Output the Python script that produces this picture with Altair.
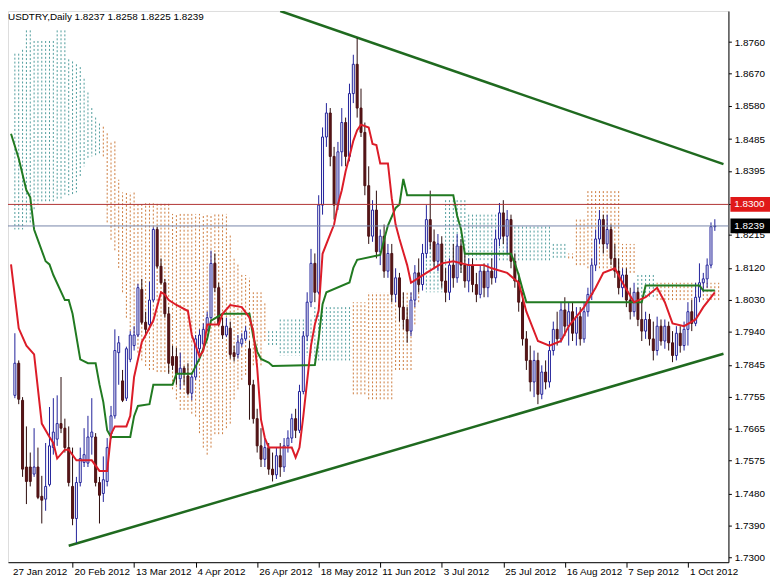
import altair as alt
import pandas as pd

title_text = "USDTRY,Daily  1.8237 1.8258 1.8225 1.8239"

opens = [1.7759,1.7850,1.7745,1.7556,1.7556,1.7536,1.7556,1.7473,1.7465,1.7506,1.7611,1.7635,1.7679,1.7666,1.7611,1.7501,1.7410,1.7512,1.7569,1.7567,1.7641,1.7641,1.7512,1.7481,1.7515,1.7649,1.7701,1.7880,1.7800,1.7751,1.7861,1.7900,1.7930,1.8059,1.7966,1.7960,1.8029,1.8229,1.8125,1.8078,1.7990,1.7869,1.7869,1.7806,1.7836,1.7814,1.7765,1.7811,1.7891,1.7905,1.7946,1.7979,1.8133,1.8064,1.7955,1.7930,1.7949,1.7880,1.7875,1.7905,1.7919,1.7891,
         1.7789,1.7693,1.7616,1.7578,1.7611,1.7550,1.7534,1.7588,1.7556,1.7616,1.7638,1.7693,1.7660,1.7770,1.7927,1.8023,1.8133,1.8051,1.8298,1.8491,
         1.8559,1.8436,1.8298,1.8449,1.8532,1.8436,1.8614,1.8697,1.8573,1.8504,1.8353,1.8210,1.8284,1.8166,1.8210,1.8111,1.8161,1.8045,1.8092,1.8009,
         1.7974,1.7941,1.8029,1.8106,1.8073,1.8161,1.8257,1.8194,1.8139,1.8188,1.8083,1.8051,1.8128,1.8092,1.8182,1.8128,1.8083,1.8128,1.8073,1.8045,
         1.8111,1.8064,1.8111,1.8092,1.8202,1.8276,1.8210,1.8257,1.8139,1.8083,1.8023,1.7919,1.7858,1.7797,1.7858,1.7762,1.7825,1.7797,1.7886,1.7946,
         1.7919,1.8001,1.7955,1.7996,1.7935,1.7982,1.7919,1.7996,1.8045,1.8128,1.8202,1.8257,1.8188,1.8229,1.8147,1.8111,1.8064,1.8100,1.8029,1.7996,
         1.8051,1.7974,1.7941,1.7974,1.7919,1.7886,1.7955,1.7913,1.7955,1.7908,1.7872,1.7935,1.7900,1.7946,1.7996,1.7963,1.8037,1.8078,1.8089,1.8128,1.8237]
highs = [1.7935,1.7858,1.7754,1.7671,1.7597,1.7666,1.7611,1.7531,1.7624,1.7726,1.7751,1.7759,1.7811,1.7693,1.7671,1.7611,1.7528,1.7611,1.7666,1.7701,1.7751,1.7652,1.7528,1.7586,1.7638,1.7729,1.7946,1.7927,1.7831,1.7897,1.7941,1.7955,1.8075,1.8089,1.7996,1.8081,1.8235,1.8237,1.8147,1.8089,1.8009,1.7900,1.7894,1.7880,1.7842,1.7850,1.7820,1.7930,1.7946,1.7963,1.7996,1.8169,1.8161,1.8078,1.7979,1.7979,1.7968,1.7900,1.7930,1.7935,1.7955,1.7913,
         1.7803,1.7721,1.7666,1.7638,1.7624,1.7597,1.7611,1.7624,1.7638,1.7660,1.7707,1.7721,1.7789,1.7941,1.8051,1.8174,1.8161,1.8326,1.8518,1.8587,
         1.8573,1.8463,1.8477,1.8573,1.8546,1.8642,1.8724,1.8771,1.8628,1.8532,1.8408,1.8312,1.8339,1.8229,1.8243,1.8188,1.8188,1.8119,1.8106,1.8051,
         1.8009,1.8051,1.8128,1.8147,1.8188,1.8298,1.8339,1.8229,1.8216,1.8210,1.8119,1.8147,1.8188,1.8216,1.8202,1.8161,1.8147,1.8147,1.8106,1.8128,
         1.8133,1.8133,1.8147,1.8229,1.8304,1.8312,1.8284,1.8271,1.8161,1.8106,1.8051,1.7941,1.7900,1.7886,1.7880,1.7844,1.7858,1.7913,1.7968,1.7996,
         1.8023,1.8037,1.8023,1.8023,1.8009,1.8009,1.8023,1.8064,1.8147,1.8229,1.8284,1.8271,1.8271,1.8243,1.8188,1.8147,1.8119,1.8119,1.8064,1.8078,
         1.8064,1.8023,1.7996,1.7990,1.7968,1.7982,1.7974,1.7974,1.7968,1.7941,1.7955,1.7955,1.7968,1.8023,1.8029,1.8078,1.8133,1.8106,1.8147,1.8249,1.8258]
lows = [1.7751,1.7734,1.7528,1.7451,1.7501,1.7528,1.7465,1.7396,1.7432,1.7501,1.7591,1.7616,1.7652,1.7597,1.7501,1.7391,1.7341,1.7501,1.7556,1.7556,1.7591,1.7501,1.7396,1.7457,1.7501,1.7635,1.7693,1.7789,1.7740,1.7743,1.7853,1.7886,1.7924,1.7960,1.7927,1.7946,1.8023,1.8119,1.8073,1.7979,1.7820,1.7831,1.7789,1.7776,1.7789,1.7759,1.7745,1.7803,1.7880,1.7897,1.7941,1.7974,1.8051,1.7955,1.7919,1.7924,1.7863,1.7855,1.7863,1.7897,1.7913,1.7690,
        1.7679,1.7597,1.7556,1.7556,1.7534,1.7515,1.7522,1.7528,1.7542,1.7597,1.7624,1.7638,1.7652,1.7762,1.7913,1.8009,1.8023,1.8045,1.8271,1.8463,
        1.8408,1.8257,1.8284,1.8408,1.8408,1.8422,1.8587,1.8546,1.8491,1.8326,1.8188,1.8194,1.8147,1.8128,1.8092,1.8092,1.8023,1.8023,1.7968,1.7946,
        1.7908,1.7927,1.8009,1.8051,1.8056,1.8147,1.8174,1.8119,1.8111,1.8064,1.8023,1.8029,1.8064,1.8078,1.8106,1.8064,1.8051,1.8051,1.8023,1.8034,
        1.8037,1.8037,1.8073,1.8078,1.8182,1.8188,1.8161,1.8119,1.8064,1.7996,1.7900,1.7831,1.7770,1.7754,1.7734,1.7748,1.7776,1.7781,1.7872,1.7900,
        1.7908,1.7927,1.7900,1.7913,1.7900,1.7900,1.7908,1.7982,1.8029,1.8111,1.8188,1.8161,1.8174,1.8128,1.8092,1.8045,1.8037,1.8009,1.7974,1.7982,
        1.7955,1.7913,1.7919,1.7900,1.7858,1.7872,1.7900,1.7891,1.7886,1.7853,1.7858,1.7880,1.7886,1.7900,1.7941,1.7955,1.8023,1.8051,1.8064,1.8119,1.8225]
closes = [1.7850,1.7748,1.7550,1.7515,1.7515,1.7556,1.7470,1.7462,1.7501,1.7616,1.7655,1.7679,1.7666,1.7611,1.7512,1.7410,1.7512,1.7580,1.7591,1.7641,1.7655,1.7512,1.7476,1.7520,1.7611,1.7701,1.7886,1.7908,1.7745,1.7891,1.7930,1.7930,1.8064,1.7966,1.7946,1.8029,1.8229,1.8125,1.8078,1.7990,1.7850,1.7844,1.7820,1.7836,1.7820,1.7765,1.7811,1.7919,1.7930,1.7946,1.7979,1.8133,1.8064,1.7960,1.7930,1.7955,1.7875,1.7869,1.7910,1.7919,1.7941,1.7789,
          1.7693,1.7616,1.7578,1.7611,1.7550,1.7534,1.7588,1.7556,1.7616,1.7638,1.7693,1.7660,1.7770,1.7927,1.8023,1.8133,1.8051,1.8298,1.8491,1.8559,
          1.8436,1.8298,1.8449,1.8532,1.8436,1.8614,1.8697,1.8573,1.8504,1.8353,1.8210,1.8284,1.8166,1.8210,1.8111,1.8161,1.8045,1.8092,1.8009,1.7974,
          1.7941,1.8029,1.8106,1.8073,1.8161,1.8257,1.8194,1.8139,1.8188,1.8083,1.8051,1.8128,1.8092,1.8182,1.8128,1.8083,1.8128,1.8073,1.8045,1.8111,
          1.8064,1.8111,1.8092,1.8202,1.8276,1.8210,1.8257,1.8139,1.8083,1.8023,1.7919,1.7858,1.7797,1.7858,1.7762,1.7825,1.7797,1.7886,1.7946,1.7919,
          1.8001,1.7955,1.7996,1.7935,1.7982,1.7919,1.7996,1.8045,1.8128,1.8202,1.8257,1.8188,1.8229,1.8147,1.8111,1.8064,1.8100,1.8029,1.7996,1.8051,
          1.7974,1.7941,1.7974,1.7919,1.7886,1.7955,1.7913,1.7955,1.7908,1.7872,1.7935,1.7900,1.7946,1.7996,1.7963,1.8037,1.8078,1.8089,1.8128,1.8237,1.8239]

tenkan_k = [-1,1,3,5,7,9,10,11,13,14,16,20,22,24,25,26,29,30,31,33,34,36,38,39,40,42,45,46,48,49,50,53,54,56,59,61,
            62,63,64,65,66,72,73,74,75,76,77,78,79,80,82,83,84,85,86,87,88,89,90,92,93,94,95,97,98,99,100,102,103,105,107,
            111,114,118,122,124,128,131,133,136,139,142,144,148,151,153,156,158,161,164,167,169,171,174,177,179,182]
tenkan_v = [1.8130,1.7949,1.7900,1.7875,1.7679,1.7641,1.7624,1.7580,1.7605,1.7605,1.7575,1.7575,1.7545,1.7545,1.7649,1.7671,1.7671,1.7701,1.7811,1.7910,1.7930,1.7971,1.8051,1.8045,1.8029,1.8015,1.7998,1.7930,1.7869,1.7886,1.7960,1.7960,1.7990,1.8015,1.8009,1.7979,
            1.7941,1.7838,1.7690,1.7638,1.7611,1.7611,1.7583,1.7611,1.7700,1.7800,1.7900,1.7960,1.8000,1.8160,1.8216,1.8243,1.8300,1.8340,1.8394,1.8436,1.8480,1.8510,1.8526,1.8518,1.8471,1.8468,1.8416,1.8416,1.8317,1.8243,1.8202,1.8128,1.8078,1.8092,1.8106,
            1.8133,1.8139,1.8128,1.8128,1.8119,1.8106,1.8078,1.7996,1.7913,1.7900,1.7913,1.7955,1.8009,1.8064,1.8106,1.8119,1.8078,1.8023,1.8037,1.8064,1.8023,1.7963,1.7955,1.7974,1.8009,1.8051]

kijun_k = [-1,1,3,4,5,6,8,9,10,13,14,15,17,19,21,22,23,24,25,30,31,32,35,36,41,42,46,48,50,51,54,61,
           62,63,64,66,67,78,79,80,81,87,88,89,95,96,97,99,100,101,102,114,115,116,117,129,130,131,132,133,163,164,178,179,182]
kijun_v = [1.8500,1.8430,1.8340,1.8320,1.8229,1.8199,1.8139,1.8130,1.8100,1.8029,1.8029,1.7990,1.7861,1.7850,1.7850,1.7790,1.7740,1.7660,1.7641,1.7641,1.7700,1.7729,1.7734,1.7789,1.7789,1.7820,1.7820,1.7863,1.7919,1.7971,1.7990,1.7990,
           1.7924,1.7883,1.7862,1.7852,1.7842,1.7845,1.7920,1.8017,1.8051,1.8079,1.8120,1.8143,1.8157,1.8200,1.8240,1.8290,1.8300,1.8372,1.8326,1.8326,1.8268,1.8230,1.8160,1.8160,1.8133,1.8100,1.8060,1.8023,1.8023,1.8070,1.8070,1.8056,1.8056]

span_a = [1.8727,1.8727,1.8738,1.8793,1.8793,1.8763,1.8763,1.8763,1.8763,1.8763,1.8763,1.8793,1.8793,1.8793,1.8711,1.8705,1.8697,1.8689,1.8656,1.8617,1.8573,1.8546,1.8529,1.8436,1.8249,1.8200,1.8170,1.8120,1.8051,1.7979,1.7941,1.7913,1.7880,1.7858,1.7842,1.7831,1.7831,1.7825,1.7825,1.7825,1.7825,1.7776,1.7748,1.7718,1.7718,1.7718,1.7707,1.7699,1.7652,1.7611,1.7591,1.7611,1.7649,1.7649,1.7649,1.7666,1.7679,1.7748,1.7776,1.7803,1.7817,1.7844,
          1.7844,1.7844,1.7844,1.7913,1.7941,1.7941,1.7941,1.7974,1.7974,1.7974,1.7974,1.7974,1.7974,1.7974,1.7974,1.7974,1.8009,1.8009,1.8009,1.8009,1.8009,1.8009,1.8009,1.8009,1.8009,1.8009,
          1.7762,1.7762,1.7762,1.7762,1.7748,1.7748,1.7748,1.7748,1.7748,1.7748,1.7748,1.7831,1.7831,1.7831,1.7831,1.7831,1.7960,1.8023,1.8139,1.8188,1.8188,1.8188,1.8188,1.8188,
          1.8312,1.8312,1.8312,1.8312,1.8312,1.8312,1.8271,1.8271,1.8271,1.8271,1.8271,1.8271,1.8271,1.8271,1.8237,1.8237,1.8237,1.8237,1.8237,1.8237,1.8237,1.8237,1.8237,1.8237,1.8237,1.8237,1.8237,1.8237,
          1.8188,1.8188,1.8188,1.8188,1.8147,1.8147,1.8128,1.8128,1.8128,1.8119,1.8119,1.8119,1.8119,1.8119,1.8119,1.8119,1.8119,1.8119,1.8106,1.8106,1.8106,1.8106,1.8100,1.8100,1.8100,1.8100,1.8100,
          1.8029,1.8029,1.8029,1.8029,1.8029,1.8029,1.8029,1.8029,1.8029,1.8029,1.8029,1.8029,1.8029,1.8029,1.8029,1.8029,1.8029]
span_b = [1.8229,1.8229,1.8229,1.8243,1.8249,1.8284,1.8298,1.8304,1.8309,1.8309,1.8309,1.8312,1.8317,1.8326,1.8326,1.8328,1.8334,1.8375,1.8408,1.8427,1.8436,1.8438,1.8444,1.8524,1.8504,1.8480,1.8480,1.8370,1.8334,1.8334,1.8334,1.8334,1.8304,1.8304,1.8304,1.8304,1.8304,1.8304,1.8304,1.8304,1.8304,1.8273,1.8273,1.8273,1.8273,1.8273,1.8273,1.8273,1.8273,1.8273,1.8273,1.8273,1.8273,1.8273,1.8273,1.8273,1.8216,1.8150,1.8133,1.8106,1.8100,1.8092,
          1.8051,1.8051,1.8051,1.8023,1.7900,1.7900,1.7900,1.7872,1.7872,1.7872,1.7872,1.7872,1.7872,1.7872,1.7872,1.7872,1.7858,1.7858,1.7858,1.7858,1.7858,1.7858,1.7858,1.7858,1.7858,1.7858,
          1.8023,1.8023,1.8023,1.8023,1.8051,1.8051,1.8051,1.8051,1.8051,1.8051,1.8051,1.8051,1.8051,1.8051,1.8051,1.8051,1.8064,1.8078,1.8073,1.8051,1.8051,1.8051,1.8051,1.8051,
          1.8106,1.8106,1.8106,1.8106,1.8106,1.8106,1.8139,1.8139,1.8139,1.8139,1.8139,1.8139,1.8139,1.8139,1.8139,1.8139,1.8139,1.8139,1.8139,1.8139,1.8139,1.8139,1.8139,1.8139,1.8139,1.8139,1.8139,1.8139,
          1.8144,1.8144,1.8144,1.8144,1.8161,1.8161,1.8257,1.8257,1.8257,1.8339,1.8339,1.8339,1.8339,1.8339,1.8339,1.8339,1.8339,1.8339,1.8188,1.8188,1.8188,1.8188,1.8037,1.8037,1.8037,1.8037,1.8037,
          1.8078,1.8078,1.8078,1.8078,1.8078,1.8078,1.8078,1.8078,1.8078,1.8078,1.8078,1.8078,1.8078,1.8078,1.8078,1.8078,1.8078]

upper_trend_k = [69.0, 184.25]
upper_trend_v = [1.8848, 1.8414]
lower_trend_k = [14.0, 184.25]
lower_trend_v = [1.7333, 1.7877]

resistance_level = 1.8300
bid_price = 1.8239

date_labels = ["27 Jan 2012", "20 Feb 2012", "13 Mar 2012", "4 Apr 2012", "26 Apr 2012", "18 May 2012",
               "11 Jun 2012", "3 Jul 2012", "25 Jul 2012", "16 Aug 2012", "7 Sep 2012", "1 Oct 2012"]
date_k = [-1, 15, 31, 47, 63, 79, 95, 111, 127, 143, 159, 175]

price_ticks = [1.8760, 1.8670, 1.8580, 1.8485, 1.8395, 1.8300, 1.8215, 1.8120, 1.8030,
               1.7940, 1.7845, 1.7755, 1.7665, 1.7575, 1.7480, 1.7390, 1.7300]

W, H = 728, 557
XDOM = [-0.5, 184.25]
YDOM = [1.72863, 1.8848]
FONT = "Liberation Sans"

xs = alt.Scale(domain=XDOM, nice=False, zero=False)
ys = alt.Scale(domain=YDOM, nice=False, zero=False)
xaxis = alt.Axis(values=date_k[1:], labels=False, ticks=True, tickSize=5, tickColor="black",
                 domainColor="black", grid=False, title=None)
yaxis = alt.Axis(orient="right", values=price_ticks, format=".4f", tickSize=3, tickColor="black",
                 domainColor="black", labelColor="black", labelFont=FONT, labelFontSize=10,
                 labelPadding=3, grid=False, title=None)


def XE(field="k"):
    return alt.X(f"{field}:Q", scale=xs, axis=xaxis)


def YE(field):
    return alt.Y(f"{field}:Q", scale=ys, axis=yaxis)


n = len(closes)
candles = pd.DataFrame({"k": list(range(n)), "o": opens, "h": highs, "l": lows, "c": closes})
bull = candles[candles["c"] >= candles["o"]]
bear = candles[candles["c"] < candles["o"]]

cloud = pd.DataFrame({"k": list(range(len(span_a))), "a": span_a, "b": span_b})
cloud_up = cloud[cloud["a"] >= cloud["b"]]
cloud_dn = cloud[cloud["a"] < cloud["b"]]


def cloud_layer(df, color):
    return alt.Chart(df).mark_rule(strokeDash=[2, 2], strokeWidth=1, color=color, clip=True).encode(
        x=XE(), y=YE("a"), y2="b:Q")


def line_layer(ks, vs, color, width):
    df = pd.DataFrame({"k": ks, "v": vs})
    return alt.Chart(df).mark_line(color=color, strokeWidth=width, clip=True).encode(x=XE(), y=YE("v"))


layers = [
    cloud_layer(cloud_up, "#4f9c9c"),
    cloud_layer(cloud_dn, "#cc7a3c"),
    line_layer(upper_trend_k, upper_trend_v, "#1f6a1f", 2.5),
    line_layer(lower_trend_k, lower_trend_v, "#1f6a1f", 2.5),
    alt.Chart(bull).mark_rule(color="#20209a", strokeWidth=1, clip=True).encode(x=XE(), y=YE("l"), y2="h:Q"),
    alt.Chart(bear).mark_rule(color="#2a0a0a", strokeWidth=1, clip=True).encode(x=XE(), y=YE("l"), y2="h:Q"),
    alt.Chart(bull).mark_bar(size=2, fill="white", stroke="#20209a", strokeWidth=1, clip=True).encode(
        x=XE(), y=YE("o"), y2="c:Q"),
    alt.Chart(bear).mark_bar(size=2, fill="#5c1518", stroke="#4a1012", strokeWidth=1, clip=True).encode(
        x=XE(), y=YE("o"), y2="c:Q"),
    line_layer(kijun_k, kijun_v, "#217a21", 2),
    line_layer(tenkan_k, tenkan_v, "#dc1c28", 2),
]

for level, lcolor, bcolor in [(resistance_level, "#b03434", "#e01818"), (bid_price, "#7585a8", "#000000")]:
    df = pd.DataFrame({"v": [level], "lo": [level - 0.0021], "hi": [level + 0.0021], "t": [f"{level:.4f}"]})
    layers.append(alt.Chart(df).mark_rule(strokeWidth=1, color=lcolor).encode(
        y=YE("v"), x=alt.value(0), x2=alt.value(W)))
    layers.append(alt.Chart(df).mark_rect(color=bcolor).encode(
        y=YE("lo"), y2="hi:Q", x=alt.value(W + 2), x2=alt.value(W + 42)))
    layers.append(alt.Chart(df).mark_text(align="left", baseline="middle", font=FONT, fontSize=10,
                                          color="white").encode(y=YE("v"), x=alt.value(W + 6), text="t:N"))

dates = pd.DataFrame({"k": date_k, "t": date_labels})
layers.append(alt.Chart(dates).mark_text(align="left", baseline="alphabetic", font=FONT, fontSize=10,
                                         color="black", dx=2).encode(x=XE(), y=alt.value(H + 13), text="t:N"))
layers.append(alt.Chart(pd.DataFrame({"t": [title_text]})).mark_text(
    align="left", baseline="top", font=FONT, fontSize=10, color="black").encode(
    x=alt.value(0), y=alt.value(1), text="t:N"))

chart = alt.layer(*layers).properties(
    width=W, height=H,
    autosize=alt.AutoSizeParams(type="none"),
    padding={"left": 0, "top": 0, "right": 42, "bottom": 18},
).configure_view(stroke=None).configure(background="white")

chart.save("out.html", embed_options={"renderer": "svg", "actions": False})
